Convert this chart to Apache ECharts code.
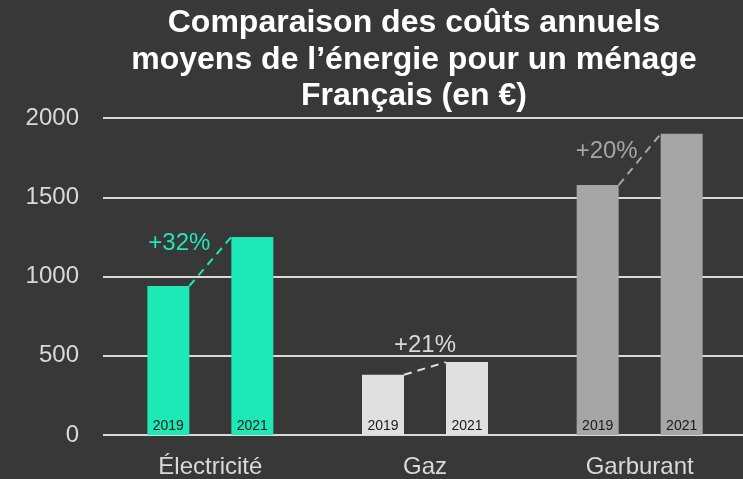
<!DOCTYPE html>
<html>
<head>
<meta charset="utf-8">
<script src="https://cdn.jsdelivr.net/npm/echarts@6/dist/echarts.min.js"></script>
<style>
	html, body { margin: 0; padding: 0; background: #383838; overflow: hidden; }
	#main { width: 747px; height: 479px; }
</style>
</head>
<body>
<div id="main"></div>
<script>
'use strict';
var categories = ['Électricité', 'Gaz', 'Garburant'];
var years = ['2019', '2021'];
var values2019 = [940, 380, 1577];
var values2021 = [1250, 460, 1900];
var growthLabels = ['+32%', '+21%', '+20%'];
var yTicks = [0, 500, 1000, 1500, 2000];

var colors = ['#1de9b6', '#e0e0e0', '#a6a6a6'];
var textColors = ['#1de9b6', '#d9d9d9', '#a6a6a6'];
// décalage des étiquettes de variation par rapport au milieu du trait
var labelOffsets = [[-31, -18], [0, -23], [-33, -8]];
var BAR_W = 42;
var FONT = 'Arial, "Liberation Sans", sans-serif';

function barData(vals) {
	return vals.map(function (v, i) {
		return { value: v, itemStyle: { color: colors[i] } };
	});
}

var chart = echarts.init(document.getElementById('main'));
chart.setOption({
	backgroundColor: '#383838',
	animation: false,
	title: {
		text: 'Comparaison des coûts annuels\nmoyens de l\u2019énergie pour un ménage\nFrançais (en €)',
		left: 409,
		top: 0,
		textAlign: 'center',
		textStyle: {
			color: '#ffffff',
			fontFamily: FONT,
			fontWeight: 'bold',
			fontSize: 32,
			lineHeight: 36.5
		}
	},
	grid: { left: 103, right: 0, top: 118, bottom: 44 },
	xAxis: {
		type: 'category',
		data: categories,
		axisLine: { show: false },
		axisTick: { show: false },
		axisLabel: { color: '#d9d9d9', fontSize: 24, fontFamily: FONT, margin: 20 }
	},
	yAxis: {
		type: 'value',
		min: yTicks[0],
		max: yTicks[yTicks.length - 1],
		interval: 500,
		axisLine: { show: false },
		axisTick: { show: false },
		axisLabel: {
			color: '#d9d9d9', fontSize: 24, fontFamily: FONT, margin: 24,
			formatter: function (v) { return String(v); }
		},
		splitLine: { lineStyle: { color: '#d9d9d9', width: 2 } }
	},
	series: [{
		name: years[0],
		type: 'bar',
		barWidth: BAR_W,
		barGap: '100%',
		data: barData(values2019),
		label: {
			show: true, position: 'insideBottom', distance: 2,
			formatter: years[0], color: '#1a1a1a', fontSize: 14, fontFamily: FONT
		}
	}, {
		name: years[1],
		type: 'bar',
		barWidth: BAR_W,
		data: barData(values2021),
		label: {
			show: true, position: 'insideBottom', distance: 2,
			formatter: years[1], color: '#1a1a1a', fontSize: 14, fontFamily: FONT
		}
	}, {
		type: 'custom',
		silent: true,
		z: 5,
		data: categories.map(function (c, i) {
			return [i, values2019[i], values2021[i]];
		}),
		encode: { x: 0, y: [1, 2] },
		renderItem: function (params, api) {
			var i = api.value(0);
			var p1 = api.coord([i, api.value(1)]);
			var p2 = api.coord([i, api.value(2)]);
			var x1 = p1[0] - BAR_W / 2, x2 = p2[0] + BAR_W / 2;
			var mx = (x1 + x2) / 2, my = (p1[1] + p2[1]) / 2;
			return {
				type: 'group',
				children: [{
					type: 'line',
					shape: { x1: x1, y1: p1[1], x2: x2, y2: p2[1] },
					style: { stroke: colors[i], lineWidth: 2, lineDash: [8, 6] }
				}, {
					type: 'text',
					style: {
						x: mx + labelOffsets[i][0],
						y: my + labelOffsets[i][1],
						text: growthLabels[i],
						fill: textColors[i],
						font: '24px ' + FONT,
						textAlign: 'center',
						textVerticalAlign: 'middle'
					}
				}]
			};
		}
	}]
});
</script>
</body>
</html>
